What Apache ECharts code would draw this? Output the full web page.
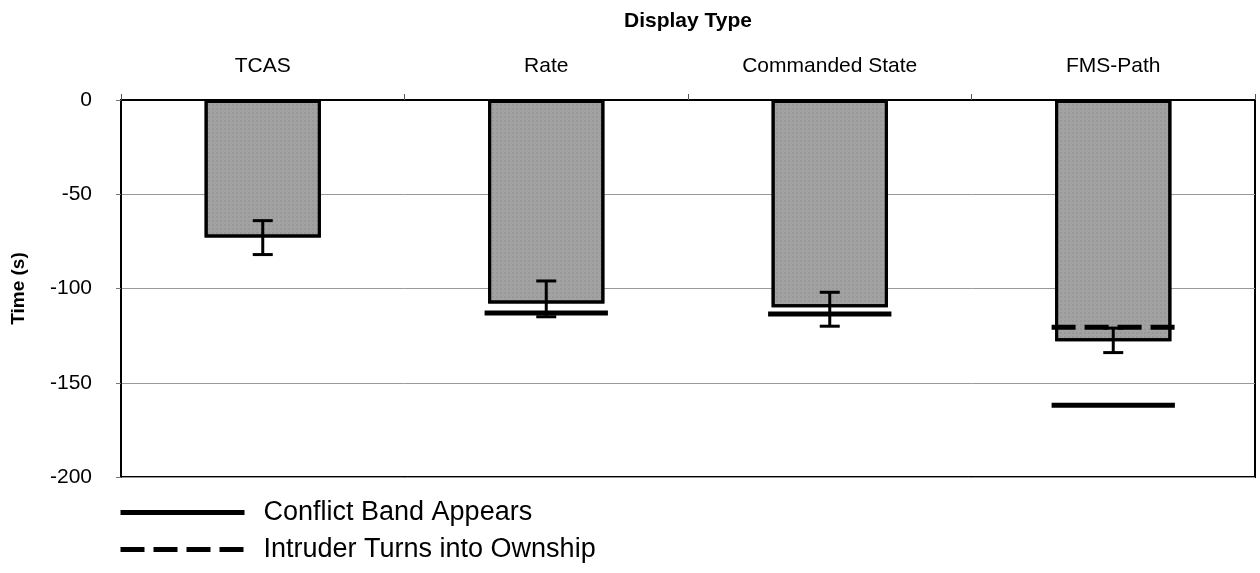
<!DOCTYPE html>
<html>
<head>
<meta charset="utf-8">
<script src="https://cdn.jsdelivr.net/npm/echarts@6/dist/echarts.min.js"></script>
<style>
html, body { margin: 0; padding: 0; background: #fff; }
#main { width: 1260px; height: 573px; }
</style>
</head>
<body>
<div id="main"></div>
<script>
// display types along the top axis
var categories = ['TCAS', 'Rate', 'Commanded State', 'FMS-Path'];
// mean time (s) per display
var meanTime = [-73, -108, -110, -128];
// error bar ends [low, high]
var errLow = [-82, -115, -120, -134];
var errHigh = [-64, -96, -102, -121];
// reference markers, null where none is drawn
var conflictBand = [null, -113, -113.5, -162];
var intruderTurn = [null, null, null, -120.5];
var yTicks = [0, -50, -100, -150, -200];

var myChart = echarts.init(document.getElementById('main'));

var errData = [];
var bandData = [];
var turnData = [];
for (var i = 0; i < categories.length; i++) {
    errData.push([i, errLow[i], errHigh[i]]);
    if (conflictBand[i] !== null) bandData.push([i, conflictBand[i]]);
    if (intruderTurn[i] !== null) turnData.push([i, intruderTurn[i]]);
}

function refLine(dash) {
    return function (params, api) {
        var p = api.coord([api.value(0), api.value(1)]);
        var w = api.size([1, 0])[0] * 0.435;
        return {
            type: 'line',
            shape: { x1: p[0] - w / 2, y1: p[1], x2: p[0] + w / 2, y2: p[1] },
            style: { stroke: '#000', lineWidth: 5, lineDash: dash }
        };
    };
}

var font = 'Liberation Sans, Arial, sans-serif';

option = {
    backgroundColor: '#fff',
    animation: false,
    grid: {
        left: 121, right: 5, top: 100, bottom: 96,
        outerBoundsMode: 'none',
        containLabel: false,
        show: true, borderColor: '#000', borderWidth: 2
    },
    legend: {
        orient: 'vertical',
        left: 113, top: 494,
        itemWidth: 124, itemHeight: 14, itemGap: 10,
        itemStyle: { opacity: 0 },
        textStyle: { fontFamily: font, fontSize: 27, color: '#000', padding: [0, 0, 0, 14] },
        data: [
            { name: 'Conflict Band Appears', lineStyle: { width: 5, color: '#000' } },
            { name: 'Intruder Turns into Ownship', lineStyle: { width: 5, color: '#000', type: [24, 9] } }
        ]
    },
    xAxis: {
        type: 'category',
        position: 'top',
        data: categories,
        name: 'Display Type',
        nameLocation: 'middle',
        nameGap: 68,
        nameTextStyle: { fontFamily: font, fontSize: 21, fontWeight: 'bold', color: '#000' },
        axisLine: { lineStyle: { color: '#000', width: 2 } },
        axisTick: { show: true, length: 6, lineStyle: { color: '#555' } },
        axisLabel: { fontFamily: font, fontSize: 21, color: '#000', margin: 23 }
    },
    yAxis: {
        type: 'value',
        min: -200, max: 0, interval: 50,
        name: 'Time (s)',
        nameLocation: 'middle',
        nameGap: 93,
        nameTextStyle: { fontFamily: font, fontSize: 19, fontWeight: 'bold', color: '#000' },
        axisLine: { show: true, lineStyle: { color: '#000', width: 2 } },
        axisTick: { show: true, length: 5, lineStyle: { color: '#777' } },
        axisLabel: {
            fontFamily: font, fontSize: 21, color: '#000', margin: 29,
            formatter: function (v) { return yTicks.indexOf(v) >= 0 ? String(v) : ''; }
        },
        splitLine: { lineStyle: { color: '#999', width: 1 } }
    },
    series: [
        {
            name: 'Conflict Band Appears',
            type: 'line', data: [], symbol: 'none',
            itemStyle: { color: '#000' },
            lineStyle: { color: '#000', width: 5 }
        },
        {
            name: 'Intruder Turns into Ownship',
            type: 'line', data: [], symbol: 'none',
            itemStyle: { color: '#000' },
            lineStyle: { color: '#000', width: 5, type: [24, 9] }
        },
        {
            name: 'Time',
            type: 'bar',
            data: meanTime,
            barWidth: '41%',
            itemStyle: {
                color: '#a2a2a2', borderColor: '#000', borderWidth: 3,
                decal: { symbol: 'rect', symbolSize: 0.5, color: 'rgba(60,60,60,0.35)', dashArrayX: [2, 2], dashArrayY: [2, 2], rotation: 0 }
            },
            z: 2
        },
        {
            name: 'Conflict Band Appears',
            type: 'custom',
            data: bandData,
            renderItem: refLine(null),
            z: 4
        },
        {
            name: 'Intruder Turns into Ownship',
            type: 'custom',
            data: turnData,
            renderItem: refLine([24, 9]),
            z: 4
        },
        {
            name: 'Error',
            type: 'custom',
            data: errData,
            renderItem: function (params, api) {
                var lo = api.coord([api.value(0), api.value(1)]);
                var hi = api.coord([api.value(0), api.value(2)]);
                var cap = 10;
                var st = { stroke: '#000', lineWidth: 3 };
                return {
                    type: 'group',
                    children: [
                        { type: 'line', shape: { x1: lo[0], y1: lo[1], x2: hi[0], y2: hi[1] }, style: st },
                        { type: 'line', shape: { x1: lo[0] - cap, y1: lo[1], x2: lo[0] + cap, y2: lo[1] }, style: st },
                        { type: 'line', shape: { x1: hi[0] - cap, y1: hi[1], x2: hi[0] + cap, y2: hi[1] }, style: st }
                    ]
                };
            },
            z: 5
        }
    ]
};

myChart.setOption(option);
window.addEventListener('resize', function () {
    myChart.resize();
});
</script>
</body>
</html>
